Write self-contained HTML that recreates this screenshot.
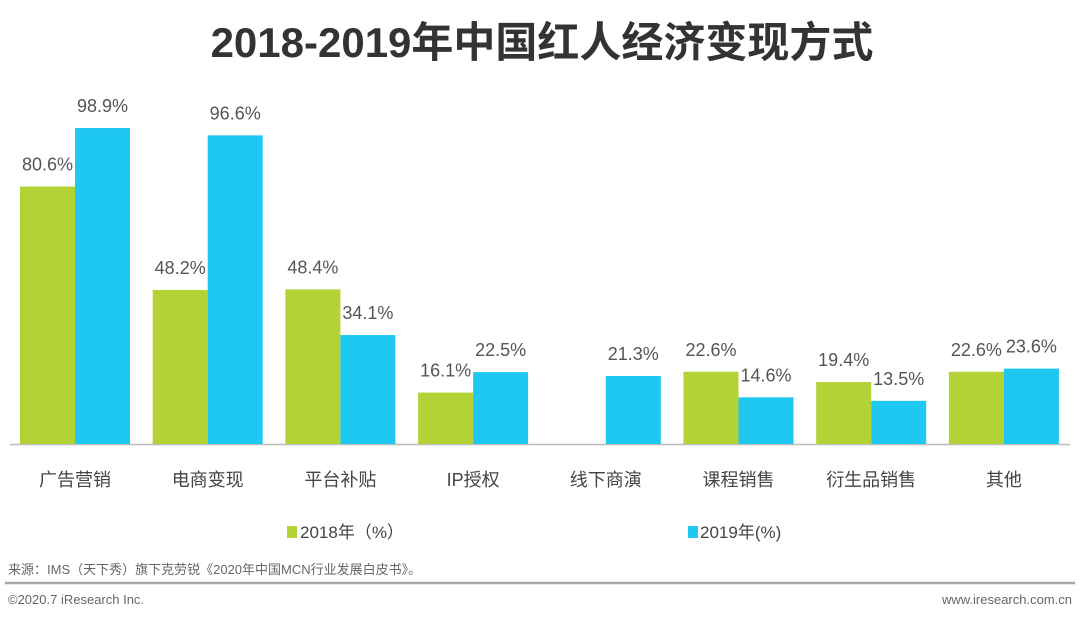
<!DOCTYPE html>
<html><head><meta charset="utf-8"><style>
body{margin:0;background:#fff;font-family:"Liberation Sans","Noto Sans CJK SC",sans-serif;}
#wrap{position:relative;width:1080px;height:619px;overflow:hidden;}
</style></head><body>
<div id="wrap">
<svg id="chart" width="1080" height="619" style="position:absolute;left:0;top:0">
<text x="542" y="57" text-anchor="middle" font-size="42" font-weight="bold" fill="#333" font-family="Liberation Sans, Noto Sans CJK SC, sans-serif">2018-2019年中国红人经济变现方式</text>
<line x1="10" y1="444.5" x2="1070" y2="444.5" stroke="#bbb" stroke-width="1.5"/>
<g id="bars"></g>
<rect x="287" y="526" width="10" height="12" fill="#b2d235"/>
<text x="300" y="538" font-size="17" fill="#444">2018年（%）</text>
<rect x="688" y="526" width="10" height="12" fill="#1ec8f0"/>
<text x="700" y="538" font-size="17" fill="#444">2019年(%)</text>
<text x="8" y="574" font-size="13" fill="#666">来源：IMS（天下秀）旗下克劳锐《2020年中国MCN行业发展白皮书》。</text>
<line x1="5" y1="583" x2="1075" y2="583" stroke="#aaa" stroke-width="2.5"/>
<text x="8" y="604" font-size="13" fill="#666">©2020.7 iResearch Inc.</text>
<text x="1072" y="604" font-size="13" fill="#666" text-anchor="end">www.iresearch.com.cn</text>
</svg>
</div>
<script>
const categories=["广告营销","电商变现","平台补贴","IP授权","线下商演","课程销售","衍生品销售","其他"];
const values2018=[80.6,48.2,48.4,16.1,null,22.6,19.4,22.6];
const values2019=[98.9,96.6,34.1,22.5,21.3,14.6,13.5,23.6];
const baseY=444, scale=3.195, pitch=132.7, firstCenter=75, bw=55;
const y=v=>baseY-v*scale;
const xc=i=>firstCenter+i*pitch;
const g=document.getElementById('bars');
const NS="http://www.w3.org/2000/svg";
function mk(tag,attrs){const e=document.createElementNS(NS,tag);for(const k in attrs)e.setAttribute(k,attrs[k]);return e;}
categories.forEach((c,i)=>{
  [[values2018,"#b2d235",-bw,"2018"],[values2019,"#1ec8f0",0,"2019"]].forEach(([arr,col,off,yr])=>{
    const v=arr[i]; if(v==null) return;
    const r=mk('rect',{x:xc(i)+off,y:y(v),width:bw,height:v*scale,fill:col});
    
    
    g.appendChild(r);
    const t=mk('text',{x:xc(i)+off+bw/2,y:y(v)-16,'text-anchor':'middle','font-size':18,fill:'#555'});
    t.textContent=v.toFixed(1)+'%';
    
    
    g.appendChild(t);
  });
  const l=mk('text',{x:xc(i),y:486,'text-anchor':'middle','font-size':18,fill:'#444'});
  l.textContent=c;
  
  
  g.appendChild(l);
});
</script>
</body></html>
